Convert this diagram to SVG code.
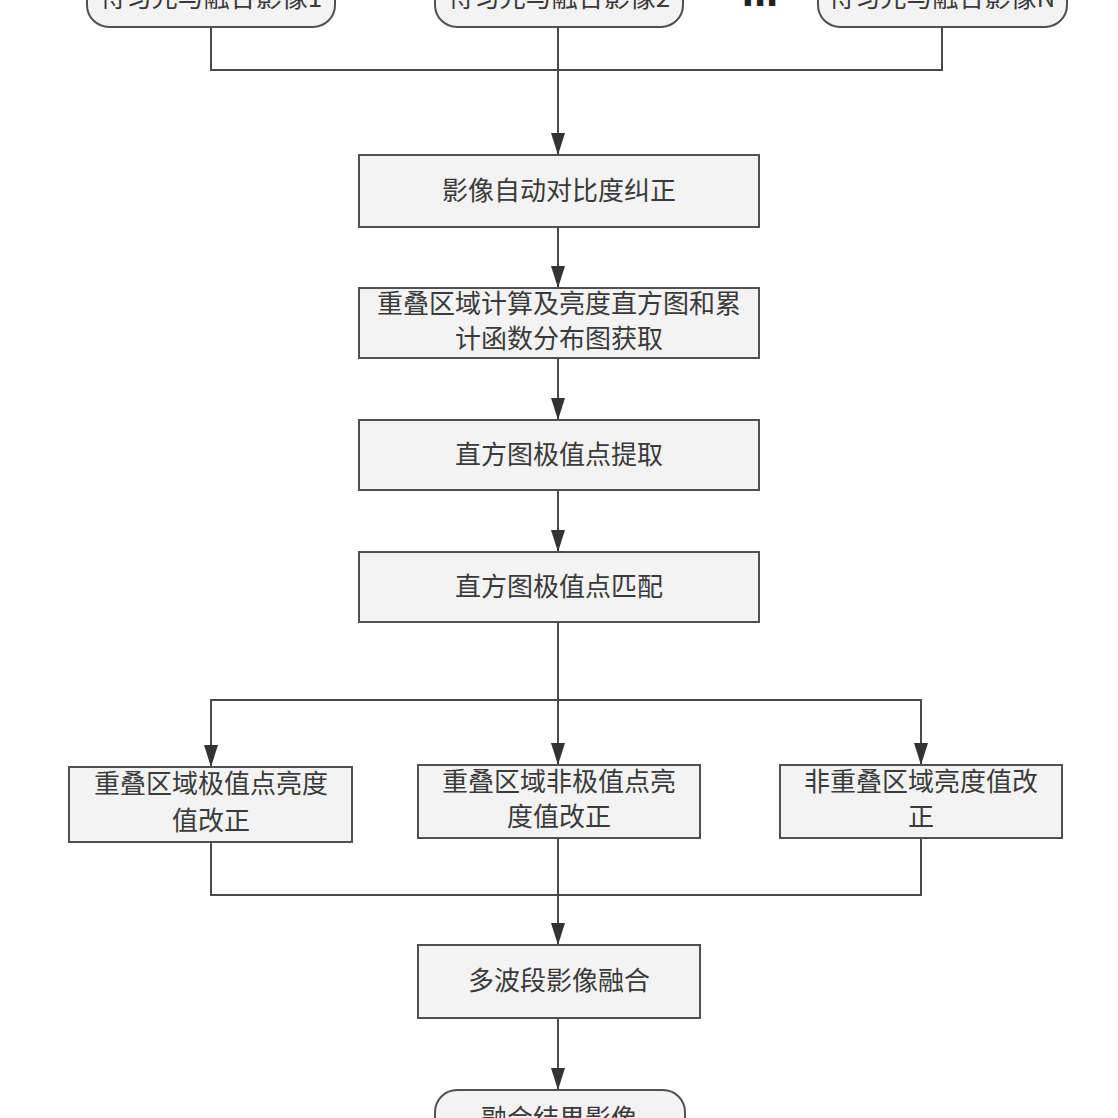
<svg xmlns="http://www.w3.org/2000/svg" width="1118" height="1118" viewBox="0 0 1118 1118">
<style>
.box{fill:#f3f3f3;stroke:#505050;stroke-width:2}
.t{font-family:"Noto Sans CJK SC","Liberation Sans",sans-serif;font-size:26px;fill:#3a3a3a;text-anchor:middle}
.c{fill:none;stroke:#4a4a4a;stroke-width:2}
</style>
<defs>
<marker id="ah" viewBox="0 0 22 14" refX="22" refY="7" markerWidth="22" markerHeight="14" markerUnits="userSpaceOnUse" orient="auto">
<path d="M0,0 L22,7 L0,14 Z" fill="#333333"/>
</marker>
</defs>
<rect width="1118" height="1118" fill="#ffffff"/>
<g id="connectors">
<polyline class="c" points="211,28 211,70 942,70 942,28"/>
<line class="c" x1="558" y1="28" x2="558" y2="155" marker-end="url(#ah)"/>
<line class="c" x1="558" y1="227" x2="558" y2="288" marker-end="url(#ah)"/>
<line class="c" x1="558" y1="358" x2="558" y2="420" marker-end="url(#ah)"/>
<line class="c" x1="558" y1="490" x2="558" y2="552" marker-end="url(#ah)"/>
<line class="c" x1="558" y1="622" x2="558" y2="765" marker-end="url(#ah)"/>
<polyline class="c" points="558,700 921,700 921,765" marker-end="url(#ah)"/>
<polyline class="c" points="558,700 211,700 211,767" marker-end="url(#ah)"/>
<polyline class="c" points="211,842 211,895 921,895 921,838"/>
<line class="c" x1="558" y1="838" x2="558" y2="945" marker-end="url(#ah)"/>
<line class="c" x1="558" y1="1018" x2="558" y2="1090" marker-end="url(#ah)"/>
</g>
<g id="n1">
<rect class="box" x="87" y="-30" width="248" height="57" rx="22"/>
<text class="t" x="211" y="7">待匀光与融合影像1</text>
</g>
<g id="n2">
<rect class="box" x="435" y="-30" width="248" height="57" rx="22"/>
<text class="t" x="559" y="7">待匀光与融合影像2</text>
</g>
<g id="dots">
<text x="760" y="6" style="font-family:'Liberation Sans',sans-serif;font-size:44px;font-weight:bold;fill:#222;text-anchor:middle">...</text>
</g>
<g id="nN">
<rect class="box" x="818" y="-30" width="249" height="57" rx="22"/>
<text class="t" x="942" y="7">待匀光与融合影像N</text>
</g>
<g id="b1">
<rect class="box" x="359" y="155" width="400" height="72"/>
<text class="t" x="559" y="200">影像自动对比度纠正</text>
</g>
<g id="b2">
<rect class="box" x="359" y="288" width="400" height="70"/>
<text class="t" x="559" y="313">重叠区域计算及亮度直方图和累</text>
<text class="t" x="559" y="348">计函数分布图获取</text>
</g>
<g id="b3">
<rect class="box" x="359" y="420" width="400" height="70"/>
<text class="t" x="559" y="464">直方图极值点提取</text>
</g>
<g id="b4">
<rect class="box" x="359" y="552" width="400" height="70"/>
<text class="t" x="559" y="596">直方图极值点匹配</text>
</g>
<g id="l1">
<rect class="box" x="69" y="767" width="283" height="75"/>
<text class="t" x="211" y="793">重叠区域极值点亮度</text>
<text class="t" x="211" y="830">值改正</text>
</g>
<g id="l2">
<rect class="box" x="418" y="765" width="282" height="73"/>
<text class="t" x="559" y="791">重叠区域非极值点亮</text>
<text class="t" x="559" y="826">度值改正</text>
</g>
<g id="l3">
<rect class="box" x="780" y="765" width="282" height="73"/>
<text class="t" x="921" y="791">非重叠区域亮度值改</text>
<text class="t" x="921" y="826">正</text>
</g>
<g id="b5">
<rect class="box" x="418" y="945" width="282" height="73"/>
<text class="t" x="559" y="990">多波段影像融合</text>
</g>
<g id="end">
<rect class="box" x="435" y="1090" width="250" height="60" rx="22"/>
<text class="t" x="559" y="1128">融合结果影像</text>
</g>
</svg>
